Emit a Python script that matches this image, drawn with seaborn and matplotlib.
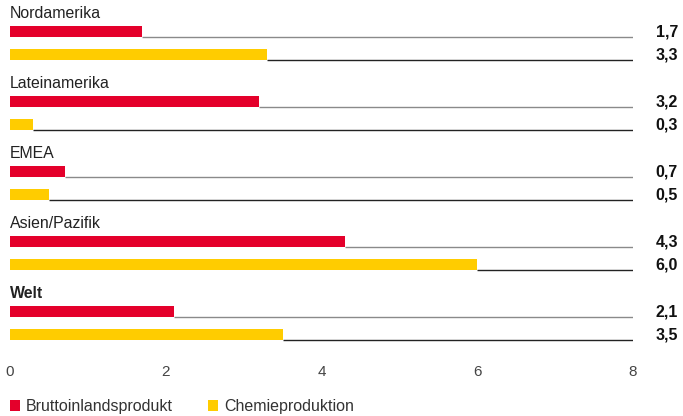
import numpy as np
import pandas as pd
import seaborn as sns
import matplotlib.pyplot as plt
from matplotlib.patches import Patch

# Data
regions = ['Nordamerika', 'Lateinamerika', 'EMEA', 'Asien/Pazifik', 'Welt']
gdp = [1.7, 3.2, 0.7, 4.3, 2.1]
chem = [3.3, 0.3, 0.5, 6.0, 3.5]
series = ['Bruttoinlandsprodukt', 'Chemieproduktion']
colors = {'Bruttoinlandsprodukt': '#e4002b', 'Chemieproduktion': '#ffcc00'}
line_colors = {'Bruttoinlandsprodukt': '#8a8a8a', 'Chemieproduktion': '#222222'}
xticks = [0, 2, 4, 6, 8]

sns.set_theme(style='white')
plt.rcParams['font.family'] = ['Liberation Sans', 'DejaVu Sans']

# offset of the second bar within a group (group spacing = 1)
offset = 23 / 70
bar_h = 11 / 70

rows = []
for i, reg in enumerate(regions):
    rows.append({'region': reg, 'series': series[0], 'value': gdp[i], 'pos': i})
    rows.append({'region': reg, 'series': series[1], 'value': chem[i], 'pos': i + offset})
df = pd.DataFrame(rows)

fig = plt.figure(figsize=(6.83, 4.16), dpi=100)
ax = fig.add_axes([10 / 683, 1 - 350 / 416, 623 / 683, 350 / 416])

sns.barplot(data=df, x='value', y='pos', hue='series', hue_order=series,
            palette=colors, orient='y', native_scale=True, dodge=False,
            width=bar_h / offset, saturation=1, legend=False, ax=ax,
            linewidth=0)

ax.set_xlim(0, 8)
ax.set_ylim((350 - 31.5) / 70, -31.5 / 70)

for _, r in df.iterrows():
    ybot = r['pos'] + bar_h / 2
    ax.plot([r['value'], 8], [ybot, ybot], color=line_colors[r['series']],
            lw=1.0, solid_capstyle='butt', zorder=1)
    ax.text(1.0 + 45 / 623, ybot - 0.005, f"{r['value']:.1f}".replace('.', ','),
            transform=ax.get_yaxis_transform(), ha='right', va='baseline',
            fontsize=11.5, fontweight='bold', color='#111111')

for i, reg in enumerate(regions):
    ax.text(0, i - bar_h / 2 - 0.07, reg, ha='left', va='bottom',
            fontsize=11.4, color='#222222',
            fontweight='bold' if reg == 'Welt' else 'normal')

ax.set_xticks(xticks)
ax.set_xticklabels([str(t) for t in xticks], fontsize=11, color='#444444')
ax.tick_params(axis='x', length=0, pad=11)
ax.set_yticks([])
ax.set_xlabel('')
ax.set_ylabel('')
sns.despine(ax=ax, left=True, bottom=True)

handles = [Patch(facecolor=colors[s], edgecolor='none', label=s) for s in series]
fig.legend(handles=handles, loc='lower left', bbox_to_anchor=(10 / 683, 0.005),
           ncol=2, frameon=False, fontsize=11.5, handlelength=0.63,
           handleheight=0.7, handletextpad=0.37, columnspacing=2.2,
           borderpad=0, borderaxespad=0, labelcolor='#333333')

fig.savefig('out.png', dpi=100)
